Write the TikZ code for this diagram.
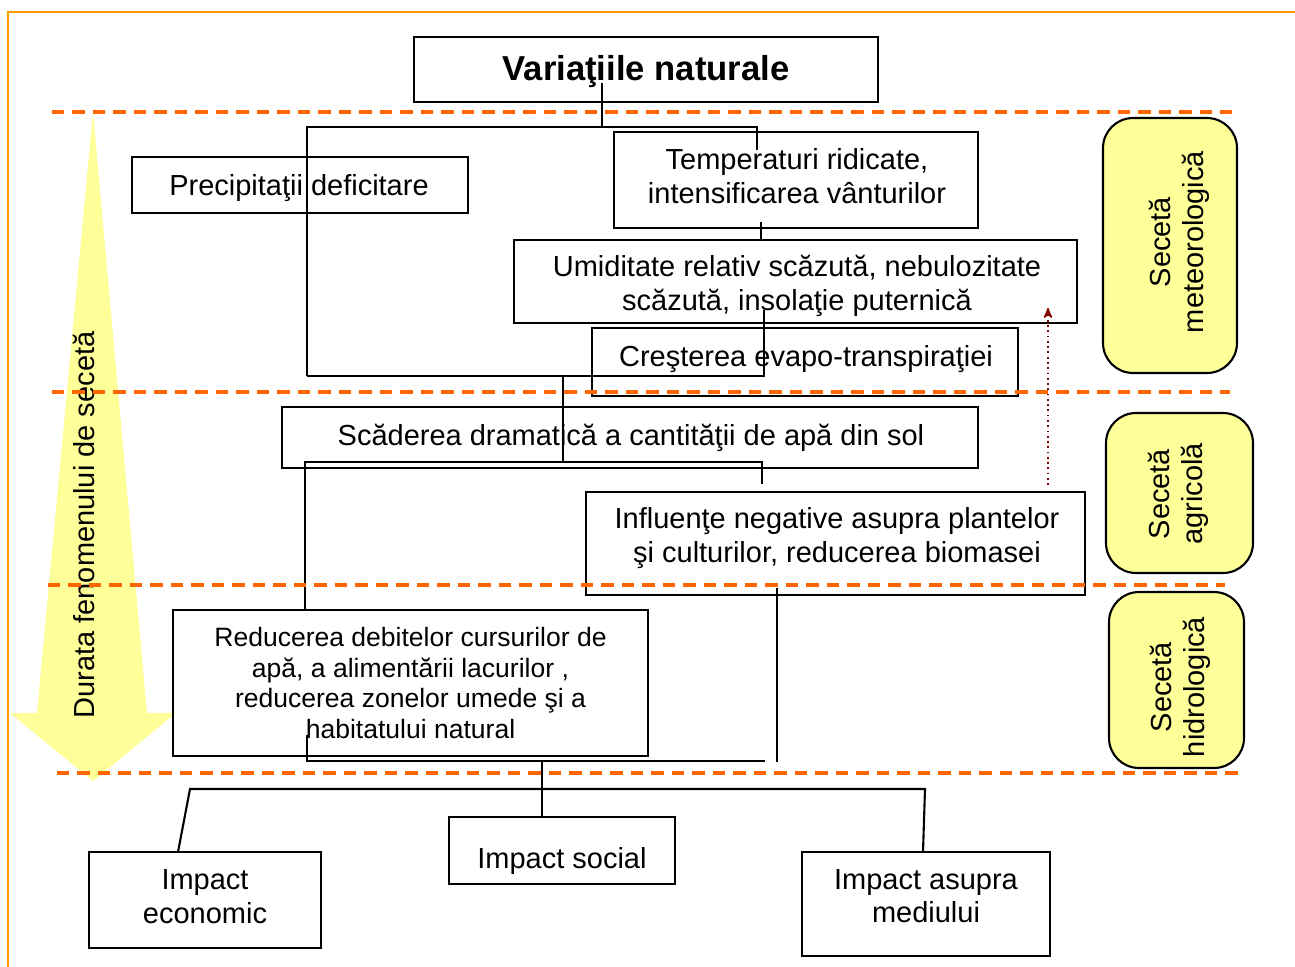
\documentclass[tikz,border=0pt]{standalone}
\usepackage{fontspec}
\setmainfont{Liberation Sans}
\usetikzlibrary{arrows}
\definecolor{frame_orange}{RGB}{255,153,0}
\definecolor{band_orange}{RGB}{255,102,0}
\definecolor{zone_yellow}{RGB}{255,255,153}
\definecolor{dry_red}{RGB}{128,0,0}

\begin{document}
\begin{tikzpicture}[x=0.02cm,y=-0.02cm,line width=1.2pt,>=stealth']
    \tikzstyle{box}=[draw=black, rectangle, inner sep=0pt]
    \tikzstyle{txt}=[inner sep=0pt, align=center, font=\fontsize{16.5}{19}\selectfont]
    \tikzstyle{zone}=[box, fill=zone_yellow, rounded corners=0.6cm]
    \tikzstyle{conn}=[draw=black, line width=1.2pt]
    \tikzstyle{band}=[draw=band_orange, line width=2.2pt, dash pattern=on 0.25cm off 0.16cm]

    \useasboundingbox (0,0) rectangle (1295,967);
    \draw[frame_orange, line width=1.7pt] (8,967) -- (8,12) -- (1295,12);

    % duration arrow
    \fill[zone_yellow] (93,112) -- (147,713) -- (176,713) -- (93,781) -- (10,713) -- (37,713) -- cycle;
    \node[txt, rotate=90] (dur) at (84,525) {Durata fenomenului de secetă};

    % boxes
    \node[box, minimum width=9.28cm, minimum height=1.30cm] (title) at (646,69.5) {};
    \node[box, minimum width=6.72cm, minimum height=1.12cm] (prec) at (300,185) {};
    \node[box, minimum width=7.28cm, minimum height=1.92cm] (temp) at (796,180) {};
    \node[box, minimum width=11.26cm, minimum height=1.66cm] (umid) at (795.5,281.5) {};
    \node[box, minimum width=8.52cm, minimum height=1.36cm] (cres) at (805,362) {};
    \node[box, minimum width=13.92cm, minimum height=1.22cm] (scad) at (630,437.5) {};
    \node[box, minimum width=9.98cm, minimum height=2.06cm] (infl) at (835.5,543.5) {};
    \node[box, minimum width=9.50cm, minimum height=2.92cm] (redu) at (410.5,683) {};
    \node[box, minimum width=4.64cm, minimum height=1.92cm] (iec) at (205,900) {};
    \node[box, minimum width=4.52cm, minimum height=1.34cm] (iso) at (562,850.5) {};
    \node[box, minimum width=4.96cm, minimum height=2.08cm] (ime) at (926,904) {};

    \node[zone, minimum width=2.68cm, minimum height=5.10cm] (met) at (1170,245.5) {};
    \node[zone, minimum width=2.94cm, minimum height=3.20cm] (agr) at (1179.5,493) {};
    \node[zone, minimum width=2.70cm, minimum height=3.52cm] (hid) at (1176.5,680) {};

    % texts
    \node[txt, font=\bfseries\fontsize{19.7}{22}\selectfont] (title_t) at (646,72) {Variaţiile naturale};
    \node[txt] (prec_t) at (299,188) {Precipitaţii deficitare};
    \node[txt] (temp_t) at (797,176) {Temperaturi ridicate,\\intensificarea vânturilor};
    \node[txt] (umid_t) at (797,286) {Umiditate relativ scăzută, nebulozitate\\scăzută, insolaţie puternică};
    \node[txt] (cres_t) at (806,359) {Creşterea evapo-transpiraţiei};
    \node[txt] (scad_t) at (631,437.5) {Scăderea dramatică a cantităţii de apă din sol};
    \node[txt] (infl_t) at (837,538) {Influenţe negative asupra plantelor\\şi culturilor, reducerea biomasei};
    \node[txt, font=\fontsize{15.1}{17.5}\selectfont] (redu_t) at (410.5,683) {Reducerea debitelor cursurilor de\\apă, a alimentării lacurilor ,\\reducerea zonelor umede şi a\\habitatului natural};
    \node[txt] (iec_t) at (205,896.5) {Impact\\economic};
    \node[txt] (iso_t) at (562,861) {Impact social};
    \node[txt] (ime_t) at (926,896) {Impact asupra\\mediului};
    \node[txt, rotate=90] (met_t) at (1179,242) {Secetă\\meteorologică};
    \node[txt, rotate=90] (agr_t) at (1178.5,494) {Secetă\\agricolă};
    \node[txt, rotate=90] (hid_t) at (1180,687) {Secetă\\hidrologică};

    \coordinate (tA) at (602,83);
    \coordinate (tB) at (602,127);
    \coordinate (pL) at (307,127);
    \coordinate (pR) at (757,127);
    \coordinate (pT) at (757,150);
    \coordinate (uA) at (761,222);
    \coordinate (cA) at (764,310);
    \coordinate (cB) at (764,376);
    \coordinate (cL) at (307,376);
    \coordinate (sA) at (563,376);
    \coordinate (sB) at (563,462);
    \coordinate (iL) at (305,462);
    \coordinate (iR) at (762,462);
    \coordinate (iT) at (762,484);
    \coordinate (hA) at (777,588);
    \coordinate (hB) at (777,762);
    \coordinate (rA) at (307,735);
    \coordinate (rB) at (307,761);
    \coordinate (rC) at (765,761);
    \coordinate (mA) at (542,761);
    \coordinate (mL) at (190,789);
    \coordinate (mR) at (925,789);
    \coordinate (eT) at (178,852);
    \coordinate (vT) at (923,852);
    \coordinate (dA) at (1048,485);
    \coordinate (dB) at (1048,308);

    \draw[conn] (tA) -- (tB);
    \draw[conn] (cL) -- (pL) -- (pR) -- (pT);
    \draw[conn] (uA) -- (uA |- umid.north);
    \draw[conn] (cA) -- (cB) -- (cL);
    \draw[conn] (sA) -- (sB);
    \draw[conn] (redu.north -| iL) -- (iL) -- (iR) -- (iT);
    \draw[conn] (hA) -- (hB);
    \draw[conn] (rA) -- (rB) -- (rC);
    \draw[conn] (mA) -- (mA |- iso.north);
    \draw[conn] (eT) -- (mL) -- (mR) -- (vT);
    \draw[dry_red, dotted, line width=1pt, ->] (dA) -- (dB);

    % zone borders
    \draw[band] (52,112) -- (1232,112);
    \draw[band] (52,392) -- (1230,392);
    \draw[band] (48,585) -- (1225,585);
    \draw[band] (57,773) -- (1240,773);
\end{tikzpicture}
\end{document}
